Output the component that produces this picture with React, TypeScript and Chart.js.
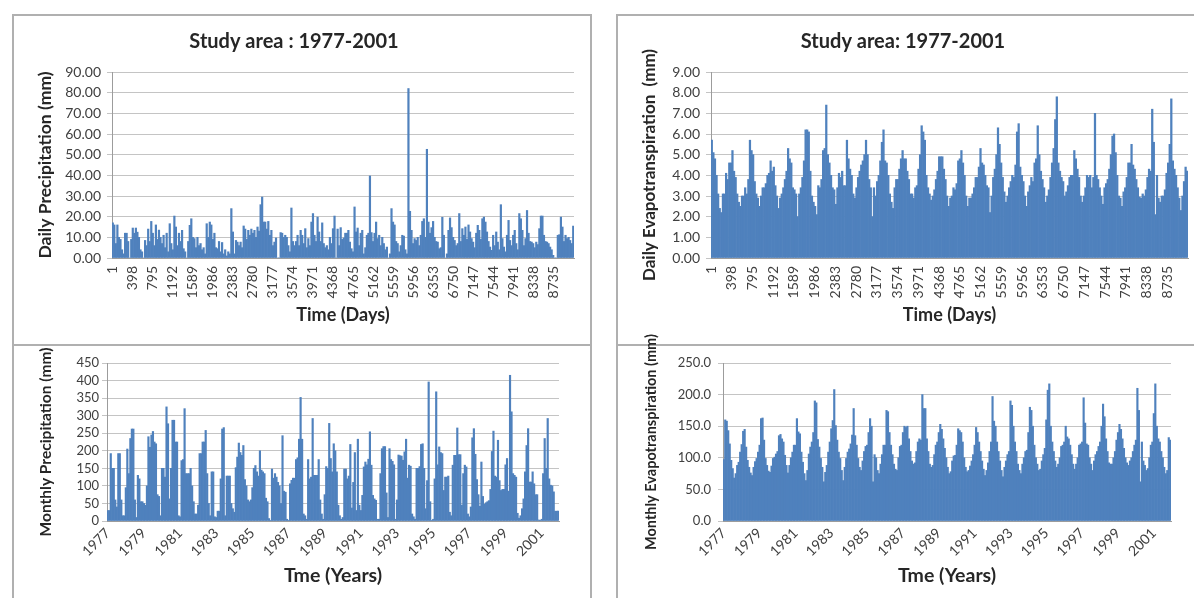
import React, { useEffect, useRef } from 'react';
import { Chart, registerables } from 'chart.js';

Chart.register(...registerables);

// ---------------- categories / tick labels ----------------
const years = [
  1977, 1978, 1979, 1980, 1981, 1982, 1983, 1984, 1985, 1986, 1987, 1988, 1989,
  1990, 1991, 1992, 1993, 1994, 1995, 1996, 1997, 1998, 1999, 2000, 2001,
];
const monthlyTickYears = [
  '1977', '1979', '1981', '1983', '1985', '1987', '1989', '1991', '1993', '1995', '1997', '1999', '2001',
];
const dayTicks = [
  1, 398, 795, 1192, 1589, 1986, 2383, 2780, 3177, 3574, 3971, 4368, 4765, 5162, 5559, 5956, 6353,
  6750, 7147, 7544, 7941, 8338, 8735,
];
const TOTAL_DAYS = 9131;

// ---------------- series (one value per ~30-day sample for the daily panels) ----------------
const dailyPrecipitation = [
  17, 16, 7, 16, 10, 9, 4, 2, 12, 12, 8, 0,
  9, 14.5, 12, 14.5, 12.5, 10, 4, 3, 0, 8.5, 6, 14,
  8, 17.7, 12, 6, 16, 9, 13.5, 10, 7, 11, 5, 12,
  3, 16.6, 7, 4, 20.3, 15, 6, 12, 8, 13.4, 4.5, 3,
  0, 8, 15.8, 19, 10, 9.4, 5, 10, 6, 7, 4, 5,
  2, 16.6, 10, 17.4, 16, 9, 12, 5, 4.5, 8, 3, 7.5,
  2, 4, 1, 3, 2, 23.9, 12.6, 2, 8.5, 7.7, 6, 7.7,
  5, 15.5, 14, 9, 13.4, 11, 14, 12, 13.4, 10, 15, 13,
  25.8, 29.5, 17.4, 17.4, 14, 17.7, 11, 13.4, 6, 7.7, 9.7, 0,
  0, 12.3, 12, 10, 11, 10, 6, 3, 24.2, 8, 6, 8,
  11, 6, 13.4, 11, 7, 14.2, 5, 9.4, 6, 17.4, 21.5, 11,
  8, 19.8, 12.6, 8, 17, 7, 5, 6, 4, 10, 7, 14.2,
  20.3, 0, 14, 6, 14.7, 9, 9.7, 12, 12, 13.4, 7.7, 4.5,
  3, 24.7, 12.6, 14.5, 6, 12, 13.4, 2, 5, 11, 12, 39.7,
  12.3, 8, 12, 17.4, 9.4, 11, 6, 10, 7, 4, 5.3, 0,
  2, 23.9, 17.4, 16, 8, 7, 3, 6, 11, 10.6, 4, 2,
  82, 22.6, 13.4, 7, 9.4, 8.5, 10, 6, 11, 17.7, 19, 10,
  52.6, 17.4, 12, 14.7, 17.7, 10, 8, 7.7, 4.5, 5, 19.7, 11,
  0, 2, 13.4, 19.4, 14.7, 10, 8.5, 6, 7, 21.5, 8, 14.2,
  11, 15, 9, 16, 12.6, 9.4, 7.7, 5, 12, 15.8, 13.4, 9,
  19, 19.8, 17.4, 12.6, 8, 5.3, 3.7, 11, 6, 12.6, 7.7, 4,
  25.8, 9.4, 5.3, 3, 11, 18.2, 8.5, 6, 11, 13.4, 7, 4,
  21.5, 19, 13.4, 6, 9.4, 23, 12, 8, 7.7, 7, 5, 7.7,
  6.5, 14.2, 20.3, 20.3, 11, 8, 7.7, 7, 5.3, 4, 1.3, 0,
  0, 11, 11.3, 19.8, 15, 8, 11, 9.4, 10, 8.5, 7, 15.5,
];

const dailyEvapotranspiration = [
  5.7, 5.1, 4.8, 4.0, 3.1, 2.4, 2.2, 3.1, 3.1, 4.1, 3.8, 4.6,
  4.6, 5.2, 4.2, 3.9, 3.1, 2.7, 2.5, 3.0, 3.0, 3.4, 3.1, 3.8,
  5.7, 5.2, 5.0, 3.7, 3.1, 2.9, 2.5, 3.0, 3.4, 3.4, 3.6, 4.0,
  4.1, 4.7, 4.2, 4.4, 3.5, 3.0, 2.4, 2.9, 3.1, 3.4, 3.8, 4.2,
  5.3, 4.8, 4.6, 3.4, 3.3, 3.1, 2.0, 3.1, 3.4, 3.9, 4.7, 6.2,
  6.2, 6.1, 4.2, 3.0, 2.7, 2.5, 2.1, 3.5, 3.4, 3.8, 5.2, 5.3,
  7.4, 5.0, 4.6, 4.0, 3.4, 3.3, 2.6, 3.4, 4.1, 3.9, 4.2, 3.5,
  3.5, 5.7, 4.8, 4.3, 4.0, 3.1, 2.9, 3.4, 3.9, 4.2, 4.5, 4.7,
  5.0, 5.7, 5.0, 3.8, 3.4, 2.0, 3.4, 3.0, 3.7, 4.0, 4.7, 5.6,
  6.2, 4.7, 4.6, 4.0, 3.1, 2.7, 2.4, 3.4, 3.8, 3.8, 4.3, 4.8,
  5.2, 4.8, 4.8, 4.2, 3.8, 3.1, 3.1, 2.9, 3.4, 3.5, 4.3, 5.0,
  6.4, 6.1, 5.7, 4.0, 3.4, 3.1, 2.8, 3.0, 3.3, 3.8, 4.2, 4.9,
  4.9, 4.9, 4.3, 3.8, 3.0, 2.5, 2.9, 3.0, 3.4, 3.3, 3.6, 4.7,
  4.8, 5.2, 4.6, 4.0, 3.0, 2.5, 2.9, 2.9, 3.1, 3.4, 3.9, 3.9,
  4.4, 5.3, 4.6, 4.5, 4.0, 3.5, 3.4, 2.2, 3.0, 3.9, 4.3, 5.0,
  6.3, 5.5, 4.6, 3.9, 3.2, 2.7, 3.0, 3.4, 3.7, 4.0, 3.9, 4.5,
  6.1, 6.5, 4.4, 4.0, 3.7, 3.0, 2.5, 3.2, 3.5, 3.9, 3.7, 4.6,
  4.8, 6.4, 5.0, 4.2, 3.8, 3.4, 2.7, 3.0, 3.3, 3.9, 4.6, 5.3,
  6.7, 7.8, 4.6, 4.2, 3.9, 3.7, 3.0, 3.2, 3.5, 3.9, 4.0, 4.0,
  5.2, 4.8, 4.3, 3.9, 3.0, 2.7, 3.0, 3.4, 4.0, 3.9, 4.0, 3.4,
  3.9, 7.0, 4.0, 3.8, 3.4, 3.0, 2.6, 3.4, 3.6, 3.8, 4.3, 5.0,
  5.9, 6.0, 5.1, 4.0, 3.0, 2.9, 2.5, 3.2, 3.4, 3.9, 4.6, 4.6,
  5.5, 4.5, 4.3, 3.8, 3.4, 2.95, 2.9, 3.1, 3.0, 3.3, 3.9, 4.3,
  4.2, 7.2, 5.6, 2.1, 4.0, 2.9, 2.7, 3.0, 3.0, 3.3, 4.1, 4.6,
  5.5, 7.7, 4.7, 4.3, 4.0, 3.4, 2.9, 2.3, 3.0, 3.7, 4.4, 4.2,
];

const monthlyPrecipitation = [
  30, 30, 192, 150, 150, 60, 40, 192, 192, 60, 15, 15,
  95, 205, 135, 235, 262, 262, 60, 10, 130, 120, 55, 55,
  50, 45, 100, 240, 210, 245, 255, 225, 220, 75, 70, 15,
  150, 150, 125, 325, 277, 63, 150, 287, 287, 225, 225, 15,
  12, 172, 175, 320, 135, 135, 135, 150, 100, 55, 20, 20,
  45, 192, 192, 225, 225, 258, 135, 50, 15, 140, 140, 12,
  10, 28, 28, 120, 262, 266, 15, 128, 128, 128, 50, 35,
  25, 152, 182, 222, 195, 187, 215, 118, 100, 60, 55, 60,
  95, 150, 158, 140, 128, 200, 145, 140, 135, 65, 55, 7,
  2, 148, 122, 135, 125, 110, 100, 50, 243, 85, 82, 5,
  2, 106, 116, 122, 122, 175, 180, 233, 352, 233, 20, 15,
  5, 175, 120, 125, 292, 130, 130, 130, 175, 60, 20, 5,
  75, 155, 150, 278, 178, 140, 220, 200, 140, 45, 15, 5,
  10, 148, 148, 120, 128, 218, 37, 110, 195, 30, 233, 45,
  30, 73, 154, 168, 160, 176, 254, 159, 73, 63, 59, 5,
  5, 135, 206, 212, 212, 80, 10, 206, 175, 170, 160, 5,
  60, 188, 186, 185, 173, 197, 233, 122, 159, 156, 20, 12,
  5, 150, 150, 155, 218, 220, 150, 35, 115, 396, 55, 2,
  5, 120, 368, 160, 211, 195, 192, 87, 125, 125, 128, 25,
  15, 159, 187, 187, 265, 189, 189, 45, 135, 159, 154, 20,
  12, 40, 237, 263, 190, 118, 75, 42, 168, 70, 48, 52,
  55, 58, 90, 198, 256, 128, 125, 230, 115, 87, 90, 90,
  160, 178, 85, 415, 311, 135, 130, 125, 22, 8, 15, 35,
  63, 140, 215, 263, 111, 111, 140, 106, 75, 75, 3, 2,
  5, 135, 235, 150, 292, 120, 102, 100, 83, 28, 28, 28,
];

const monthlyEvapotranspiration = [
  97, 160, 158, 143, 122, 96, 83, 68, 75, 88, 93, 109,
  121, 142, 145, 117, 96, 85, 76, 72, 85, 94, 99, 109,
  120, 162, 163, 128, 99, 88, 79, 77, 87, 99, 101, 106,
  110, 135, 137, 130, 125, 104, 88, 76, 88, 100, 109, 120,
  120, 162, 141, 138, 109, 93, 75, 64, 80, 106, 117, 125,
  140, 190, 187, 129, 117, 99, 85, 62, 77, 88, 109, 125,
  146, 159, 208, 151, 128, 109, 99, 80, 64, 85, 99, 109,
  114, 122, 136, 178, 135, 120, 99, 85, 80, 95, 110, 118,
  120, 140, 162, 150, 62, 105, 100, 80, 75, 90, 105, 120,
  120, 175, 173, 140, 120, 105, 90, 82, 80, 100, 118, 120,
  140, 150, 148, 150, 130, 110, 95, 90, 92, 110, 125, 130,
  128, 200, 178, 178, 130, 110, 90, 85, 88, 105, 120, 125,
  140, 153, 145, 130, 115, 100, 85, 75, 78, 95, 103, 104,
  120, 146, 143, 140, 125, 100, 85, 78, 80, 87, 95, 105,
  120, 148, 140, 125, 110, 95, 82, 72, 80, 92, 110, 125,
  197, 158, 150, 125, 110, 95, 80, 70, 85, 95, 105, 110,
  190, 183, 150, 125, 110, 90, 80, 75, 90, 100, 110, 112,
  140, 180, 175, 150, 120, 100, 90, 80, 82, 95, 105, 115,
  160, 207, 217, 150, 125, 110, 95, 85, 90, 100, 118, 120,
  125, 150, 133, 130, 120, 105, 90, 82, 90, 100, 120, 122,
  125, 195, 155, 122, 120, 100, 90, 80, 95, 105, 110, 118,
  125, 150, 185, 165, 130, 110, 92, 90, 90, 100, 110, 128,
  140, 153, 145, 130, 115, 100, 92, 88, 95, 100, 110, 120,
  128, 210, 175, 62, 125, 95, 88, 80, 83, 100, 120, 125,
  170, 217, 150, 130, 125, 110, 100, 85, 75, 80, 132, 128,
];

// ---------------- styling ----------------
const FONT = 'Lato, "Open Sans", "DejaVu Sans", sans-serif';
const BAR_COLOR = '#4f81bd';
const GRID_COLOR = '#c4c4c4';
const AXIS_COLOR = '#9c9c9c';
const TICK_COLOR = '#404040';
const TITLE_COLOR = '#262626';
const BOX_COLOR = '#b0b0b0';

Chart.defaults.font.family = FONT;

const monthlyCategories = years.flatMap((y) =>
  Array.from({ length: 12 }, (_, m) => `${y}-${String(m + 1).padStart(2, '0')}`),
);

interface PanelSpec {
  left: number;
  top: number;
  width: number;
  height: number;
  kind: 'daily' | 'monthly';
  values: number[];
  title?: string;
  titleTop: number;
  titleBottom: number;
  padTop: number;
  padRight: number;
  yWidth: number;
  xHeight: number;
  yMax: number;
  yStep: number;
  yDecimals: number;
  yTickPad: number;
  yTickSize: number;
  yTitle: string;
  yTitleSize: number;
  yTitlePad: number;
  xTickSize: number;
  xTickPad: number;
  xTitle: string;
  xTitleSize: number;
  xTitlePad: number;
}

function buildConfig(s: PanelSpec): any {
  const isDaily = s.kind === 'daily';
  const step = TOTAL_DAYS / s.values.length;
  const dataset: any = {
    data: isDaily ? s.values.map((v, i) => ({ x: 0.5 + step * (i + 0.5), y: v })) : s.values,
    backgroundColor: BAR_COLOR,
    borderWidth: 0,
    barPercentage: 1,
    categoryPercentage: 1,
  };
  const xTitle = {
    display: true,
    text: s.xTitle,
    color: TITLE_COLOR,
    font: { size: s.xTitleSize, weight: 'bold', lineHeight: 1.2 },
    padding: { top: 0, bottom: s.xTitlePad },
  };
  const x: any = isDaily
    ? {
        type: 'linear',
        min: 0.5,
        max: TOTAL_DAYS + 0.5,
        offset: false,
        grid: { display: false, drawTicks: false },
        border: { display: true, color: AXIS_COLOR, width: 1 },
        afterBuildTicks: (axis: any) => {
          axis.ticks = dayTicks.map((value) => ({ value }));
        },
        ticks: {
          autoSkip: false,
          minRotation: 90,
          maxRotation: 90,
          padding: s.xTickPad,
          color: TICK_COLOR,
          font: { size: s.xTickSize },
          callback: (v: any) => String(v),
        },
        title: xTitle,
        afterFit: (scale: any) => {
          scale.height = s.xHeight;
        },
      }
    : {
        type: 'category',
        offset: true,
        grid: { display: false, drawTicks: false },
        border: { display: true, color: AXIS_COLOR, width: 1 },
        ticks: {
          autoSkip: false,
          minRotation: 45,
          maxRotation: 45,
          padding: s.xTickPad,
          color: TICK_COLOR,
          font: { size: s.xTickSize },
          callback: (_v: any, i: number) => (i % 24 === 0 ? monthlyTickYears[i / 24] : ''),
        },
        title: xTitle,
        afterFit: (scale: any) => {
          scale.height = s.xHeight;
        },
      };
  return {
    type: 'bar',
    data: isDaily ? { datasets: [dataset] } : { labels: monthlyCategories, datasets: [dataset] },
    options: {
      responsive: false,
      animation: false,
      events: [],
      layout: { padding: { top: s.padTop, right: s.padRight, left: 0, bottom: 0 } },
      plugins: {
        legend: { display: false },
        tooltip: { enabled: false },
        title: {
          display: !!s.title,
          text: s.title || '',
          color: TITLE_COLOR,
          font: { size: 20, weight: 'bold', lineHeight: 1.2 },
          padding: { top: s.titleTop, bottom: s.titleBottom },
        },
      },
      scales: {
        x,
        y: {
          min: 0,
          max: s.yMax,
          grid: { color: GRID_COLOR, lineWidth: 1, drawTicks: true, tickLength: 5 },
          border: { display: true, color: AXIS_COLOR, width: 1 },
          ticks: {
            autoSkip: false,
            stepSize: s.yStep,
            padding: s.yTickPad,
            color: TICK_COLOR,
            font: { size: s.yTickSize },
            callback: (v: any) => Number(v).toFixed(s.yDecimals),
          },
          title: {
            display: true,
            text: s.yTitle,
            color: TITLE_COLOR,
            font: { size: s.yTitleSize, weight: 'bold', lineHeight: 1.2 },
            padding: { top: s.yTitlePad, bottom: 0 },
          },
          afterFit: (scale: any) => {
            scale.width = s.yWidth;
          },
        },
      },
    },
  };
}

const panels: PanelSpec[] = [
  {
    left: 14, top: 16, width: 576, height: 326, kind: 'daily', values: dailyPrecipitation,
    title: 'Study area : 1977-2001', titleTop: 14, titleBottom: 18, padTop: 0, padRight: 16,
    yWidth: 98, xHeight: 84, yMax: 90, yStep: 10, yDecimals: 2, yTickPad: 6, yTickSize: 14,
    yTitle: 'Daily Precipitation (mm)', yTitleSize: 17.5, yTitlePad: 20.5,
    xTickSize: 14, xTickPad: 8,
    xTitle: 'Time (Days)', xTitleSize: 18, xTitlePad: 16.2,
  },
  {
    left: 618, top: 16, width: 576, height: 326, kind: 'daily', values: dailyEvapotranspiration,
    title: 'Study area: 1977-2001', titleTop: 14, titleBottom: 18, padTop: 0, padRight: 6,
    yWidth: 93, xHeight: 84, yMax: 9, yStep: 1, yDecimals: 2, yTickPad: 6, yTickSize: 14,
    yTitle: 'Daily Evapotranspiration  (mm)', yTitleSize: 17, yTitlePad: 21.8,
    xTickSize: 14, xTickPad: 8,
    xTitle: 'Time (Days)', xTitleSize: 18, xTitlePad: 16.2,
  },
  {
    left: 14, top: 322, width: 576, height: 276, kind: 'monthly', values: monthlyPrecipitation,
    titleTop: 0, titleBottom: 0, padTop: 41, padRight: 31,
    yWidth: 93, xHeight: 77, yMax: 450, yStep: 50, yDecimals: 0, yTickPad: 3, yTickSize: 13,
    yTitle: 'Monthly Precipitation (mm)', yTitleSize: 15.5, yTitlePad: 22.7,
    xTickSize: 14, xTickPad: 4,
    xTitle: 'Tme (Years)', xTitleSize: 19.5, xTitlePad: 10.3,
  },
  {
    left: 618, top: 322, width: 576, height: 276, kind: 'monthly', values: monthlyEvapotranspiration,
    titleTop: 0, titleBottom: 0, padTop: 41, padRight: 23,
    yWidth: 105, xHeight: 77, yMax: 250, yStep: 50, yDecimals: 1, yTickPad: 7, yTickSize: 13,
    yTitle: 'Monthly Evapotranspiration (mm)', yTitleSize: 14.5, yTitlePad: 24.3,
    xTickSize: 14, xTickPad: 4,
    xTitle: 'Tme (Years)', xTitleSize: 19.5, xTitlePad: 10.3,
  },
];

function ChartPanel({ spec }: { spec: PanelSpec }) {
  const ref = useRef<HTMLCanvasElement>(null);
  useEffect(() => {
    if (!ref.current) return;
    const chart = new Chart(ref.current, buildConfig(spec));
    return () => chart.destroy();
  }, [spec]);
  return (
    <canvas
      ref={ref}
      width={spec.width}
      height={spec.height}
      style={{ position: 'absolute', left: spec.left, top: spec.top, width: spec.width, height: spec.height }}
    />
  );
}

const boxes = [
  { left: 12, top: 14, width: 580, height: 332 },
  { left: 616, top: 14, width: 590, height: 332 },
  { left: 12, top: 344, width: 580, height: 300 },
  { left: 616, top: 344, width: 590, height: 300 },
];

export default function App() {
  return (
    <div
      style={{
        position: 'absolute',
        left: 0,
        top: 0,
        width: 1194,
        height: 598,
        overflow: 'hidden',
        background: '#ffffff',
        fontFamily: FONT,
      }}
    >
      {boxes.map((b, i) => (
        <div
          key={i}
          style={{
            position: 'absolute',
            left: b.left,
            top: b.top,
            width: b.width,
            height: b.height,
            boxSizing: 'border-box',
            border: `2px solid ${BOX_COLOR}`,
          }}
        />
      ))}
      {panels.map((p, i) => (
        <ChartPanel key={i} spec={p} />
      ))}
    </div>
  );
}
